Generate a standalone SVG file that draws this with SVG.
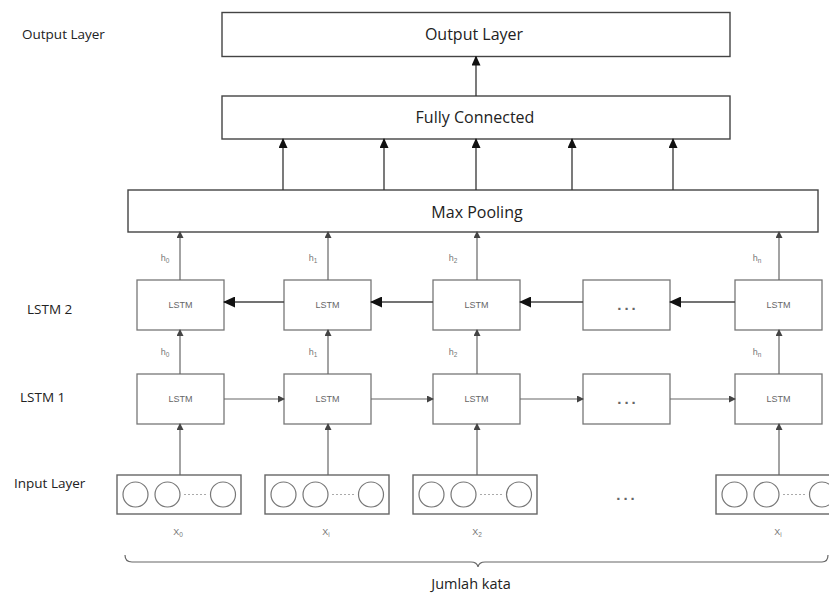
<svg xmlns="http://www.w3.org/2000/svg" width="829" height="594" viewBox="0 0 829 594">
  <style>
    .bg { fill: #ffffff; }
    .lbl { font-family: "Open Sans", "Liberation Sans", sans-serif; font-size: 13.5px; fill: #222; }
    .big { fill: #fff; stroke: #444; stroke-width: 1.4; }
    .bigtxt { font-family: "Open Sans", "Liberation Sans", sans-serif; font-size: 16px; fill: #222; text-anchor: middle; }
    .cell { fill: #fff; stroke: #777; stroke-width: 1.3; }
    .celltxt { font-family: "Liberation Sans", "Open Sans", sans-serif; font-size: 9px; fill: #666; text-anchor: middle; }
    .dots { font-family: "Liberation Sans", sans-serif; font-size: 15px; font-weight: bold; fill: #666; text-anchor: middle; letter-spacing: 3px; }
    .in { fill: #fff; stroke: #666; stroke-width: 1.4; }
    .neuron { fill: #fff; stroke: #777; stroke-width: 1.2; }
    .dash { stroke: #aaa; stroke-width: 1; stroke-dasharray: 2 2; }
    .hl { font-family: "Liberation Sans", sans-serif; font-size: 9px; fill: #777; text-anchor: middle; }
    .sub { font-size: 6.5px; }
    .thin { stroke: #666; stroke-width: 1.2; fill: none; }
    .mid { stroke: #333; stroke-width: 1.3; fill: none; }
    .heavy { stroke: #444; stroke-width: 1.6; fill: none; }
  </style>
  <defs>
    <marker id="aSmall" markerUnits="userSpaceOnUse" markerWidth="7" markerHeight="7" refX="6" refY="3.5" orient="auto">
      <path d="M0,0 L7,3.5 L0,7 z" fill="#444"/>
    </marker>
    <marker id="aMid" markerUnits="userSpaceOnUse" markerWidth="10" markerHeight="9" refX="9" refY="4.5" orient="auto">
      <path d="M0,0 L10,4.5 L0,9 z" fill="#111"/>
    </marker>
    <marker id="aBig" markerUnits="userSpaceOnUse" markerWidth="12" markerHeight="11" refX="11" refY="5.5" orient="auto">
      <path d="M0,0 L12,5.5 L0,11 z" fill="#111"/>
    </marker>
  </defs>

  <rect class="bg" x="0" y="0" width="829" height="594"/>

  <!-- row captions -->
  <g id="captions">
    <text class="lbl" x="22" y="39">Output Layer</text>
    <text class="lbl" x="27" y="314">LSTM 2</text>
    <text class="lbl" x="20" y="402">LSTM 1</text>
    <text class="lbl" x="14" y="488">Input Layer</text>
  </g>

  <!-- dense layers -->
  <g id="output-layer">
    <rect class="big" x="222" y="12.5" width="508" height="44"/>
    <text class="bigtxt" x="474" y="39.5">Output Layer</text>
  </g>
  <g id="fully-connected">
    <rect class="big" x="222" y="96" width="508" height="43"/>
    <text class="bigtxt" x="475" y="122.5">Fully Connected</text>
  </g>
  <g id="max-pooling">
    <rect class="big" x="128" y="190" width="690" height="42"/>
    <text class="bigtxt" x="477" y="217.5">Max Pooling</text>
  </g>

  <!-- LSTM 2 row -->
  <g id="lstm2-0"><rect class="cell" x="137" y="280" width="87" height="50"/><text class="celltxt" x="180.5" y="308">LSTM</text></g>
  <g id="lstm2-1"><rect class="cell" x="284" y="280" width="87" height="50"/><text class="celltxt" x="327.5" y="308">LSTM</text></g>
  <g id="lstm2-2"><rect class="cell" x="433" y="280" width="87" height="50"/><text class="celltxt" x="476.5" y="308">LSTM</text></g>
  <g id="lstm2-3"><rect class="cell" x="583" y="280" width="87" height="50"/><text class="dots" x="628" y="310">...</text></g>
  <g id="lstm2-n"><rect class="cell" x="735" y="280" width="87" height="50"/><text class="celltxt" x="778.5" y="308">LSTM</text></g>

  <!-- LSTM 1 row -->
  <g id="lstm1-0"><rect class="cell" x="137" y="374" width="87" height="50"/><text class="celltxt" x="180.5" y="402">LSTM</text></g>
  <g id="lstm1-1"><rect class="cell" x="284" y="374" width="87" height="50"/><text class="celltxt" x="327.5" y="402">LSTM</text></g>
  <g id="lstm1-2"><rect class="cell" x="433" y="374" width="87" height="50"/><text class="celltxt" x="476.5" y="402">LSTM</text></g>
  <g id="lstm1-3"><rect class="cell" x="583" y="374" width="87" height="50"/><text class="dots" x="628" y="404">...</text></g>
  <g id="lstm1-n"><rect class="cell" x="735" y="374" width="87" height="50"/><text class="celltxt" x="778.5" y="402">LSTM</text></g>

  <!-- input word vectors -->
  <g id="input-0">
    <rect class="in" x="117" y="475" width="124" height="39"/>
    <circle class="neuron" cx="135.5" cy="494.5" r="12.5"/>
    <circle class="neuron" cx="167.5" cy="494.5" r="12.5"/>
    <line class="dash" x1="184" y1="494.5" x2="207" y2="494.5"/>
    <circle class="neuron" cx="223" cy="494.5" r="12.5"/>
    <text class="hl" x="178" y="535">X<tspan class="sub" dy="2">0</tspan></text>
  </g>
  <g id="input-1">
    <rect class="in" x="265" y="475" width="124" height="39"/>
    <circle class="neuron" cx="283.5" cy="494.5" r="12.5"/>
    <circle class="neuron" cx="315.5" cy="494.5" r="12.5"/>
    <line class="dash" x1="332" y1="494.5" x2="355" y2="494.5"/>
    <circle class="neuron" cx="371" cy="494.5" r="12.5"/>
    <text class="hl" x="326" y="535">X<tspan class="sub" dy="2">i</tspan></text>
  </g>
  <g id="input-2">
    <rect class="in" x="413" y="475" width="124" height="39"/>
    <circle class="neuron" cx="431.5" cy="494.5" r="12.5"/>
    <circle class="neuron" cx="463.5" cy="494.5" r="12.5"/>
    <line class="dash" x1="480" y1="494.5" x2="503" y2="494.5"/>
    <circle class="neuron" cx="519" cy="494.5" r="12.5"/>
    <text class="hl" x="477" y="535">X<tspan class="sub" dy="2">2</tspan></text>
  </g>
  <g id="input-gap">
    <text class="dots" x="627" y="500">...</text>
  </g>
  <g id="input-n">
    <rect class="in" x="716" y="475" width="124" height="39"/>
    <circle class="neuron" cx="734.5" cy="494.5" r="12.5"/>
    <circle class="neuron" cx="766.5" cy="494.5" r="12.5"/>
    <line class="dash" x1="783" y1="494.5" x2="806" y2="494.5"/>
    <circle class="neuron" cx="822" cy="494.5" r="12.5"/>
    <text class="hl" x="778" y="535">X<tspan class="sub" dy="2">i</tspan></text>
  </g>

  <!-- hidden-state labels -->
  <g id="h-labels">
    <text class="hl" x="165" y="261">h<tspan class="sub" dy="2">0</tspan></text>
    <text class="hl" x="313" y="261">h<tspan class="sub" dy="2">1</tspan></text>
    <text class="hl" x="453" y="261">h<tspan class="sub" dy="2">2</tspan></text>
    <text class="hl" x="757" y="261">h<tspan class="sub" dy="2">n</tspan></text>
    <text class="hl" x="165" y="355">h<tspan class="sub" dy="2">0</tspan></text>
    <text class="hl" x="313" y="355">h<tspan class="sub" dy="2">1</tspan></text>
    <text class="hl" x="453" y="355">h<tspan class="sub" dy="2">2</tspan></text>
    <text class="hl" x="757" y="355">h<tspan class="sub" dy="2">n</tspan></text>
  </g>

  <!-- brace under the sequence -->
  <g id="brace">
    <path class="thin" d="M125,555 Q125,562 132,562 L471,562 Q477,562 478,567 Q479,562 485,562 L822,562 Q828,562 828,555"/>
    <text class="lbl" x="471" y="589" text-anchor="middle" style="font-size:14.5px">Jumlah kata</text>
  </g>

  <g id="connectors">
    <!-- inputs to LSTM 1 -->
    <line class="thin" x1="180" y1="475" x2="180" y2="424" marker-end="url(#aSmall)"/>
    <line class="thin" x1="328" y1="475" x2="328" y2="424" marker-end="url(#aSmall)"/>
    <line class="thin" x1="477" y1="475" x2="477" y2="424" marker-end="url(#aSmall)"/>
    <line class="thin" x1="779" y1="475" x2="779" y2="424" marker-end="url(#aSmall)"/>
    <!-- LSTM 1 to LSTM 2 -->
    <line class="thin" x1="180" y1="374" x2="180" y2="330" marker-end="url(#aSmall)"/>
    <line class="thin" x1="328" y1="374" x2="328" y2="330" marker-end="url(#aSmall)"/>
    <line class="thin" x1="477" y1="374" x2="477" y2="330" marker-end="url(#aSmall)"/>
    <line class="thin" x1="779" y1="374" x2="779" y2="330" marker-end="url(#aSmall)"/>
    <!-- LSTM 2 to max pooling -->
    <line class="thin" x1="180" y1="280" x2="180" y2="232" marker-end="url(#aSmall)"/>
    <line class="thin" x1="328" y1="280" x2="328" y2="232" marker-end="url(#aSmall)"/>
    <line class="thin" x1="477" y1="280" x2="477" y2="232" marker-end="url(#aSmall)"/>
    <line class="thin" x1="779" y1="280" x2="779" y2="232" marker-end="url(#aSmall)"/>
    <!-- LSTM 1 forward chain -->
    <line class="thin" x1="224" y1="399" x2="284" y2="399" marker-end="url(#aSmall)"/>
    <line class="thin" x1="371" y1="399" x2="433" y2="399" marker-end="url(#aSmall)"/>
    <line class="thin" x1="520" y1="399" x2="583" y2="399" marker-end="url(#aSmall)"/>
    <line class="thin" x1="670" y1="399" x2="735" y2="399" marker-end="url(#aSmall)"/>
    <!-- LSTM 2 backward chain -->
    <line class="heavy" x1="284" y1="302" x2="224" y2="302" marker-end="url(#aBig)"/>
    <line class="heavy" x1="433" y1="302" x2="371" y2="302" marker-end="url(#aBig)"/>
    <line class="heavy" x1="583" y1="302" x2="520" y2="302" marker-end="url(#aBig)"/>
    <line class="heavy" x1="735" y1="302" x2="670" y2="302" marker-end="url(#aBig)"/>
    <!-- max pooling to fully connected -->
    <line class="mid" x1="283" y1="190" x2="283" y2="139" marker-end="url(#aMid)"/>
    <line class="mid" x1="384" y1="190" x2="384" y2="139" marker-end="url(#aMid)"/>
    <line class="mid" x1="476" y1="190" x2="476" y2="139" marker-end="url(#aMid)"/>
    <line class="mid" x1="572" y1="190" x2="572" y2="139" marker-end="url(#aMid)"/>
    <line class="mid" x1="673" y1="190" x2="673" y2="139" marker-end="url(#aMid)"/>
    <!-- fully connected to output -->
    <line class="mid" x1="476" y1="96" x2="476" y2="56.5" marker-end="url(#aMid)"/>
  </g>
</svg>
